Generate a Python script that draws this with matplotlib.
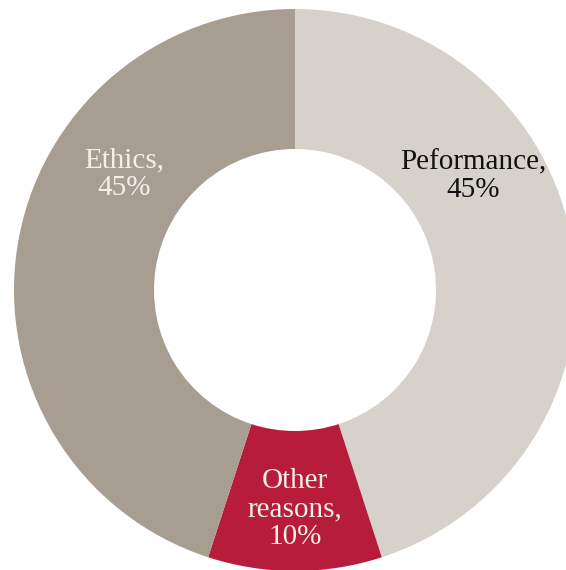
import matplotlib.pyplot as plt

# reasons for choosing, share in percent
categories = ['Peformance', 'Other reasons', 'Ethics']
shares = [45, 10, 45]
colors = ['#d6d2cb', '#b71c3a', '#a89d91']
label_colors = ['#111111', '#f4efe9', '#f4efe9']

W, H = 566, 570
fig = plt.figure(figsize=(W / 100, H / 100), dpi=100)
ax = fig.add_axes([0, 0, 1, 1])

cx, cy = 295, H - 290
r_out, r_in = 281, 141

ax.pie(shares, colors=colors, startangle=90, counterclock=False,
       center=(cx, cy), radius=r_out,
       wedgeprops=dict(width=r_out - r_in, linewidth=0))

ax.set_xlim(0, W)
ax.set_ylim(0, H)
ax.set_aspect('equal')
ax.axis('off')

# label anchors picked by hand from the reference
label_pos = [(473, H - 176), (295, H - 509), (124, H - 174)]
for name, val, (x, y), c in zip(categories, shares, label_pos, label_colors):
    if name == 'Other reasons':
        txt = f'Other\nreasons,\n{val}%'
    else:
        txt = f'{name},\n{val}%'
    ax.text(x, y, txt, ha='center', va='center', color=c,
            fontsize=21, family='Liberation Serif', linespacing=1.08)

plt.savefig('out.png', dpi=100)
